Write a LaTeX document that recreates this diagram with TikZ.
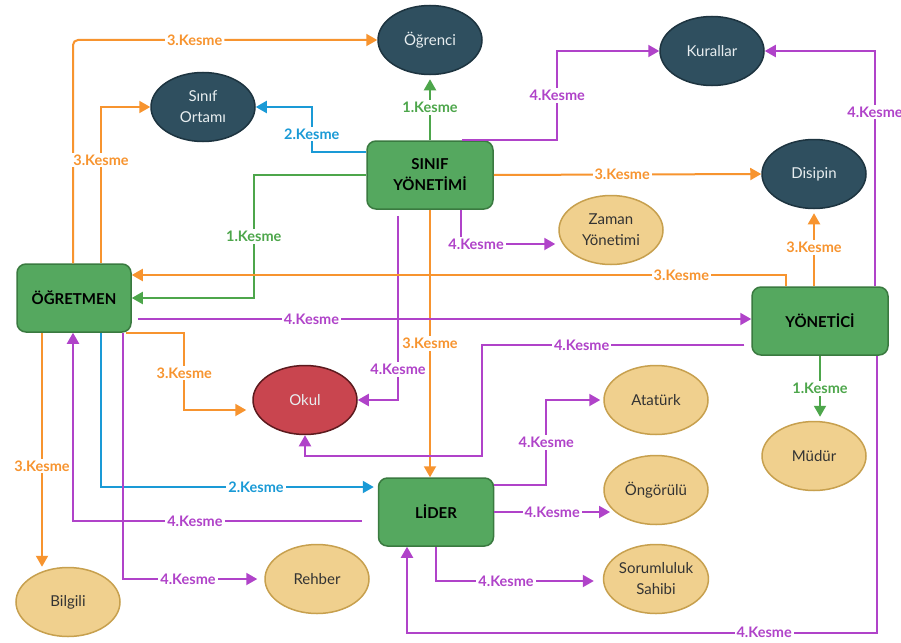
\documentclass[tikz,border=0pt]{standalone}
\usepackage{fontspec}
\setmainfont{Lato}
\usetikzlibrary{arrows.meta,calc,shapes.geometric}
\definecolor{orng}{HTML}{F7942F}
\definecolor{grn}{HTML}{4DA64B}
\definecolor{blu}{HTML}{1A9AD6}
\definecolor{prp}{HTML}{B043C9}
\definecolor{navf}{HTML}{2F4F5F}
\definecolor{navd}{HTML}{1D3440}
\definecolor{navt}{HTML}{E8EEF0}
\definecolor{boxf}{HTML}{55A85F}
\definecolor{boxd}{HTML}{3A7A40}
\definecolor{tanf}{HTML}{F0D08E}
\definecolor{tand}{HTML}{C7A04E}
\definecolor{okf}{HTML}{C9454F}
\definecolor{okd}{HTML}{5C1A1E}
\begin{document}
\begin{tikzpicture}[x=1pt,y=-1pt,
  box/.style={draw=boxd, fill=boxf, line width=1.5pt, rounded corners=9pt, minimum height=68pt, align=center, text=black, font=\fontsize{15}{21}\selectfont\bfseries},
  nav/.style={ellipse, draw=navd, fill=navf, line width=1.5pt, minimum width=104pt, minimum height=69pt, inner sep=0pt, align=center, text=navt, font=\fontsize{15}{21}\selectfont},
  tannode/.style={ellipse, draw=tand, fill=tanf, line width=1.5pt, minimum width=104pt, minimum height=69pt, inner sep=0pt, align=center, text=black!80, font=\fontsize{15}{21}\selectfont},
  okulnode/.style={ellipse, draw=okd, fill=okf, line width=1.5pt, minimum width=104pt, minimum height=69pt, inner sep=0pt, align=center, text=navt, font=\fontsize{15}{21}\selectfont},
  conn/.style={line width=2pt, -{Triangle[length=11pt,width=12pt]}},
  oc/.style={conn, color=orng},
  gc/.style={conn, color=grn},
  bc/.style={conn, color=blu},
  pc/.style={conn, color=prp},
  lab/.style={fill=white, inner sep=2pt, font=\fontsize{14.5}{16}\selectfont\bfseries}
]
\useasboundingbox (0,0) rectangle (901,642);
\fill[white] (0,0) rectangle (901,642);

\node[nav] (OR) at (430,40) {Öğrenci};
\node[nav] (KU) at (712,51) {Kurallar};
\node[nav] (SO) at (203,107) {Sınıf\\Ortamı};
\node[nav] (DI) at (814,174) {Disipin};
\node[tannode] (ZY) at (611,230) {Zaman\\Yönetimi};
\node[box, minimum width=126pt] (SY) at (430,175) {SINIF\\YÖNETİMİ};
\node[box, minimum width=114pt] (OG) at (74,298) {ÖĞRETMEN};
\node[box, minimum width=136pt] (YN) at (820,321) {YÖNETİCİ};
\node[okulnode] (OK) at (305,400) {Okul};
\node[tannode] (AT) at (656,400) {Atatürk};
\node[tannode] (MU) at (814,456) {Müdür};
\node[box, minimum width=115pt] (LD) at (436,512) {LİDER};
\node[tannode] (ON) at (656,490) {Öngörülü};
\node[tannode] (SS) at (656,579) {Sorumluluk\\Sahibi};
\node[tannode] (RE) at (317,579) {Rehber};
\node[tannode] (BI) at (68,602) {Bilgili};

% edges
\draw[oc, rounded corners=5pt] ([xshift=-1pt]OG.north) |- node[lab,pos=0.70]{3.Kesme} (OR.west);
\draw[oc] ([xshift=27pt]OG.north) |- node[lab,pos=0.33]{3.Kesme} (SO.west);
\draw[bc] ([yshift=23pt]SY.west) -| node[lab,pos=0.7]{2.Kesme} ($(SO.east)+(56,0)$) -- (SO.east);
\draw[gc, shorten >=4pt] (SY.north) -- node[lab]{1.Kesme} (OR.south);
\draw[pc] ([xshift=32pt]SY.north) -| node[lab,pos=0.75]{4.Kesme} ($(KU.west)+(-102,0)$) -- (KU.west);
\draw[gc] (SY.west) -| node[lab,pos=0.75]{1.Kesme} ($(OG.east)+(122,0)$) -- (OG.east);
\draw[oc] (SY.east) -- node[lab,pos=0.48]{3.Kesme} (DI.west);
\draw[pc] ([xshift=31pt]SY.south) |- node[lab,pos=0.58]{4.Kesme} ($(ZY.west)+(-3,14)$);
\draw[pc, shorten <=6pt] ([xshift=-32pt]SY.south) |- node[lab,pos=0.42]{4.Kesme} (OK.east);
\draw[oc] (SY.south) -- node[lab]{3.Kesme} (SY.south |- LD.north);
\draw[oc] ([xshift=-34pt]YN.north) |- node[lab,pos=0.58]{3.Kesme} ([yshift=23pt]OG.east);
\draw[oc, shorten >=4pt] (DI.south |- YN.north) -- node[lab]{3.Kesme} (DI.south);
\draw[pc] ([xshift=55pt]YN.north) |- node[lab,pos=0.37]{4.Kesme} (KU.east);
\coordinate (s14) at ([yshift=-21pt]OG.east);
\draw[pc, shorten <=6pt] (s14) -- node[lab,pos=0.29]{4.Kesme} (s14 -| YN.west);
\draw[pc, shorten <=7pt] ([yshift=-24pt]YN.west) -| node[lab,pos=0.315]{4.Kesme} ($(OK.south)+(177,21)$) -| (OK.south);
\draw[gc, shorten >=4pt] (YN.south) -- node[lab]{1.Kesme} (YN.south |- MU.north);
\draw[oc, shorten >=6pt] ([xshift=-6pt]OG.south east) -| node[lab,pos=0.76]{3.Kesme} ($(OK.west)+(-68,10)$) -- ($(OK.west)+(0,10)$);
\coordinate (s18) at ([xshift=-32pt]OG.south);
\draw[oc] (s18) -- node[lab,pos=0.57]{3.Kesme} (s18 |- BI.north);
\coordinate (s19) at ([xshift=-1pt]OG.south);
\draw[pc, shorten <=16pt] ([yshift=-9pt]LD.west) -| node[lab,pos=0.3]{4.Kesme} (s19);
\draw[bc, shorten >=4pt] ([xshift=27pt]OG.south) |- node[lab,pos=0.78]{2.Kesme} ([yshift=25pt]LD.west);
\draw[pc, shorten >=7pt] ([xshift=49pt]OG.south) |- node[lab,pos=0.73]{4.Kesme} (RE.west);
\draw[pc, shorten >=3pt] ([yshift=27pt]LD.east) -| node[lab,pos=0.75]{4.Kesme} ($(AT.west)+(-57,0)$) -- (AT.west);
\coordinate (e23) at ($(ON.center)+(-46,23)$);
\draw[pc] (LD.east) -- node[lab]{4.Kesme} (LD.east -| e23);
\draw[pc, shorten >=9pt] (LD.south) |- node[lab,pos=0.71]{4.Kesme} ($(SS.west)+(0,2)$);
\coordinate (e25) at ([xshift=-29pt]LD.south);
\draw[pc] ([xshift=57pt]YN.south) |- node[lab,pos=0.62]{4.Kesme} ($(e25)+(0,86)$) -- (e25);
\end{tikzpicture}
\end{document}
